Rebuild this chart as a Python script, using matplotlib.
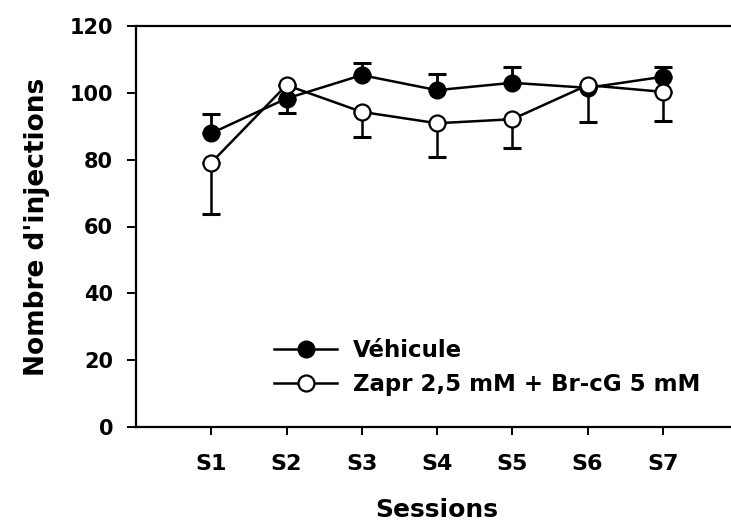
import matplotlib
matplotlib.use("Agg")
import matplotlib.pyplot as plt
import numpy as np

sessions = ["S1", "S2", "S3", "S4", "S5", "S6", "S7"]
vehicule = [87.9, 98.3, 105.3, 100.8, 103.0, 101.5, 104.8]
vehicule_err_up = [5.8, 0.0, 3.5, 4.8, 4.8, 0.0, 2.8]
vehicule_err_down = [0.0, 4.4, 0.0, 0.0, 0.0, 0.0, 0.0]
zapr = [79.1, 102.3, 94.3, 90.9, 92.1, 102.3, 100.3]
zapr_err_down = [15.4, 0.0, 7.6, 10.2, 8.7, 11.1, 8.7]
labels = ["Véhicule", "Zapr 2,5 mM + Br-cG 5 mM"]

plt.rcParams['font.family'] = ['DejaVu Sans']
plt.rcParams['font.weight'] = 'bold'

fig = plt.figure(figsize=(7.31, 5.31), dpi=100)
ax = fig.add_axes([136/731, 1-427/531, 602/731, (427-26)/531])

x = np.arange(1, len(sessions) + 1)

ax.errorbar(x, vehicule, yerr=[vehicule_err_down, vehicule_err_up], fmt='none',
            ecolor='black', elinewidth=2, capsize=6.5, capthick=2.2, zorder=2)
ax.plot(x, vehicule, '-o', color='black', lw=1.8, markersize=11.5,
        markerfacecolor='black', markeredgecolor='black', markeredgewidth=1.5,
        zorder=3, label=labels[0])
ax.errorbar(x, zapr, yerr=[zapr_err_down, [0]*len(zapr)], fmt='none',
            ecolor='black', elinewidth=1.8, capsize=6.5, capthick=2.2, zorder=4)
ax.plot(x, zapr, '-o', color='black', lw=1.8, markersize=11.5,
        markerfacecolor='white', markeredgecolor='black', markeredgewidth=1.6,
        zorder=5, label=labels[1])

ax.set_xlim(0, 8)
ax.set_ylim(0, 120)
ax.set_yticks(np.arange(0, 121, 20))
ax.set_xticks(x)
ax.set_xticklabels(sessions)

for s in ax.spines.values():
    s.set_linewidth(1.6)
ax.tick_params(axis='y', direction='out', length=6.5, width=1.4, labelsize=15, pad=10)
ax.tick_params(axis='x', direction='out', length=5.5, width=1.4, labelsize=16, pad=14)

ax.set_ylabel("Nombre d'injections", fontsize=19, fontweight='bold', labelpad=14)
ax.set_xlabel("Sessions", fontsize=18, fontweight='bold', labelpad=17)

leg = ax.legend(loc='upper left', bbox_to_anchor=(274/731, 1-339/531),
                bbox_transform=fig.transFigure, frameon=False, fontsize=16.5,
                handlelength=2.75, handletextpad=0.7, labelspacing=0.5,
                borderpad=0, borderaxespad=0)

fig.savefig("out.png", dpi=100)
